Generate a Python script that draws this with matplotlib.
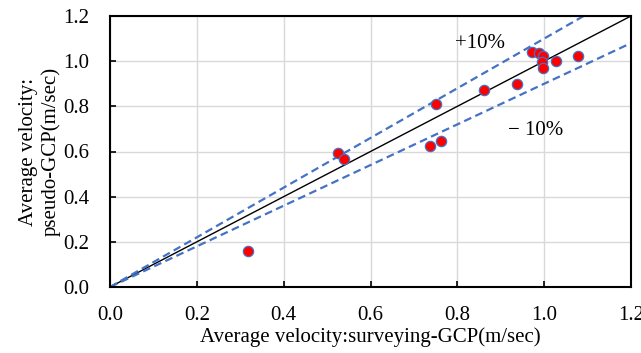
import numpy as np
import matplotlib.pyplot as plt

plt.rcParams['font.family'] = ['Liberation Serif', 'DejaVu Serif']

# surveying-GCP vs pseudo-GCP average velocity (m/sec)
surveying = [0.973, 0.989, 0.998, 0.995, 0.997, 1.027, 1.078, 0.938, 0.862,
             0.750, 0.762, 0.736, 0.526, 0.538, 0.318]
pseudo = [1.041, 1.034, 1.022, 0.997, 0.970, 1.001, 1.022, 0.898, 0.872,
          0.811, 0.647, 0.625, 0.592, 0.566, 0.159]

line_x = [0.0, 1.2]
ratio_upper = 1.1
ratio_lower = 0.9

fig = plt.figure(figsize=(6.41, 3.53), dpi=100)
ax = fig.add_axes([110 / 641, 1 - 287 / 353, 521 / 641, 271 / 353])

ax.plot(line_x, line_x, color='black', lw=1.0, zorder=2)
ax.plot(line_x, [v * ratio_upper for v in line_x], color='#4472C4', lw=1.6,
        ls=(0, (3.5, 2)), zorder=2)
ax.plot(line_x, [v * ratio_lower for v in line_x], color='#4472C4', lw=1.6,
        ls=(0, (3.5, 2)), zorder=2)
ax.scatter(surveying, pseudo, s=55, color='red', edgecolor='#4472C4',
           linewidth=0.9, zorder=3)

ax.text(0.853, 1.08, '+10%', fontsize=15, ha='center', va='center')
ax.text(0.98, 0.695, '\u2212 10%', fontsize=15, ha='center', va='center')

ax.set_xlim(0, 1.2)
ax.set_ylim(0, 1.2)
ticks = np.arange(0, 1.21, 0.2)
ax.set_xticks(ticks)
ax.set_yticks(ticks)
ax.set_xticklabels([f'{t:.1f}' for t in ticks])
ax.set_yticklabels([f'{t:.1f}' for t in ticks])
ax.tick_params(direction='in', length=4, width=1.2, labelsize=15)
ax.tick_params(axis='x', pad=14)
ax.tick_params(axis='y', pad=15)
ax.grid(color='#d9d9d9', lw=1.0, zorder=0)
ax.set_axisbelow(True)
for sp in ax.spines.values():
    sp.set_linewidth(1.5)

ax.set_xlabel('Average velocity:surveying-GCP(m/sec)', fontsize=15, labelpad=1)
ax.set_ylabel('Average velocity:\npseudo-GCP(m/sec)', fontsize=15, labelpad=2,
              linespacing=1.2)

fig.savefig('out.png', dpi=100)
